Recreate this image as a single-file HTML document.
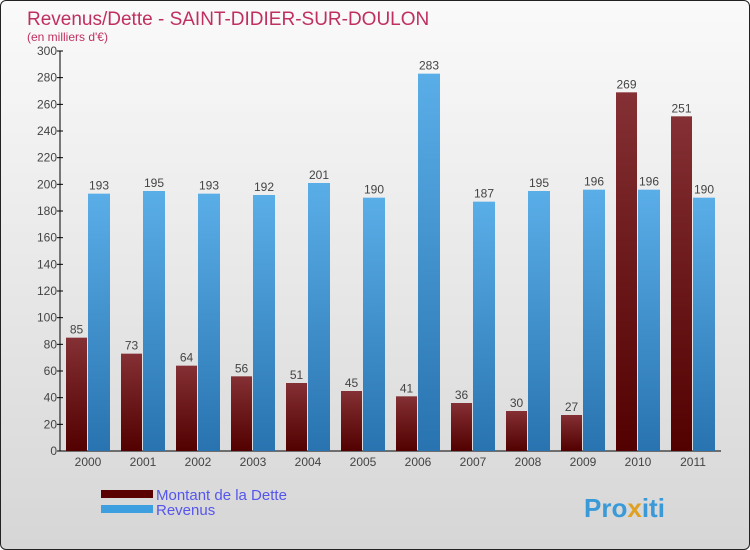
<!DOCTYPE html>
<html><head><meta charset="utf-8"><style>
body{margin:0;}
#c{position:relative;width:748px;height:548px;border:1px solid #222;border-radius:6px;overflow:hidden;background:linear-gradient(#fafafa,#d6d6d6);font-family:"Liberation Sans",sans-serif;}
</style></head><body>
<div id="c">
<svg width="748" height="548" id="s">
<defs>
<linearGradient id="gd" x1="0" y1="0" x2="0" y2="1"><stop offset="0" stop-color="#843034"/><stop offset="1" stop-color="#520000"/></linearGradient>
<linearGradient id="gr" x1="0" y1="0" x2="0" y2="1"><stop offset="0" stop-color="#5aaee8"/><stop offset="1" stop-color="#2873b0"/></linearGradient>
</defs>
<text x="26" y="24" font-size="19" fill="#c0305e">Revenus/Dette - SAINT-DIDIER-SUR-DOULON</text>
<text x="26" y="40" font-size="12" fill="#c0305e">(en milliers d'€)</text>
<g id="g"></g>
<rect x="100" y="489" width="52" height="8" fill="#5a0000"/>
<rect x="100" y="504" width="52" height="8" fill="#3d9ee0"/>
<text x="155" y="499" font-size="15" fill="#5555ee">Montant de la Dette</text>
<text x="155" y="514" font-size="15" fill="#5555ee">Revenus</text>
<text x="583" y="516" font-size="26" font-weight="bold" fill="#3a9ad8">Pro<tspan fill="#e0a020">x</tspan>iti</text>
</svg></div>
<script>
const years=["2000","2001","2002","2003","2004","2005","2006","2007","2008","2009","2010","2011"];
const dette=[85,73,64,56,51,45,41,36,30,27,269,251];
const revenus=[193,195,193,192,201,190,283,187,195,196,196,190];
const ticks=[0,20,40,60,80,100,120,140,160,180,200,220,240,260,280,300];
const NS="http://www.w3.org/2000/svg";
const g=document.getElementById('g');
const y=v=>450-v*400/300;
const x0=i=>59+55*i;
function mk(t,a){const e=document.createElementNS(NS,t);for(const k in a)e.setAttribute(k,a[k]);g.appendChild(e);return e;}
let e=mk('line',{x1:59,y1:50,x2:59,y2:450,stroke:'#000'});


e=mk('line',{x1:59,y1:450,x2:720,y2:450,stroke:'#000'});


ticks.forEach(t=>{
 let l=mk('line',{x1:56,y1:y(t),x2:62,y2:y(t),stroke:'#000'});
 
 
 let tx=mk('text',{x:56,y:y(t)+4,'font-size':12,'text-anchor':'end',fill:'#444'});tx.textContent=t;
 
 
});
years.forEach((yr,i)=>{
 let b=mk('rect',{x:x0(i)+6,y:y(dette[i]),width:21,height:450-y(dette[i]),fill:'url(#gd)'});
 
 
 b=mk('rect',{x:x0(i)+28,y:y(revenus[i]),width:22,height:450-y(revenus[i]),fill:'url(#gr)'});
 
 
 let t=mk('text',{x:x0(i)+16.5,y:y(dette[i])-4,'font-size':12,'text-anchor':'middle',fill:'#444'});t.textContent=dette[i];
 
 
 t=mk('text',{x:x0(i)+39,y:y(revenus[i])-4,'font-size':12,'text-anchor':'middle',fill:'#444'});t.textContent=revenus[i];
 
 
 t=mk('text',{x:x0(i)+28,y:465,'font-size':12,'text-anchor':'middle',fill:'#444'});t.textContent=yr;
 
 
});
</script>
</body></html>
